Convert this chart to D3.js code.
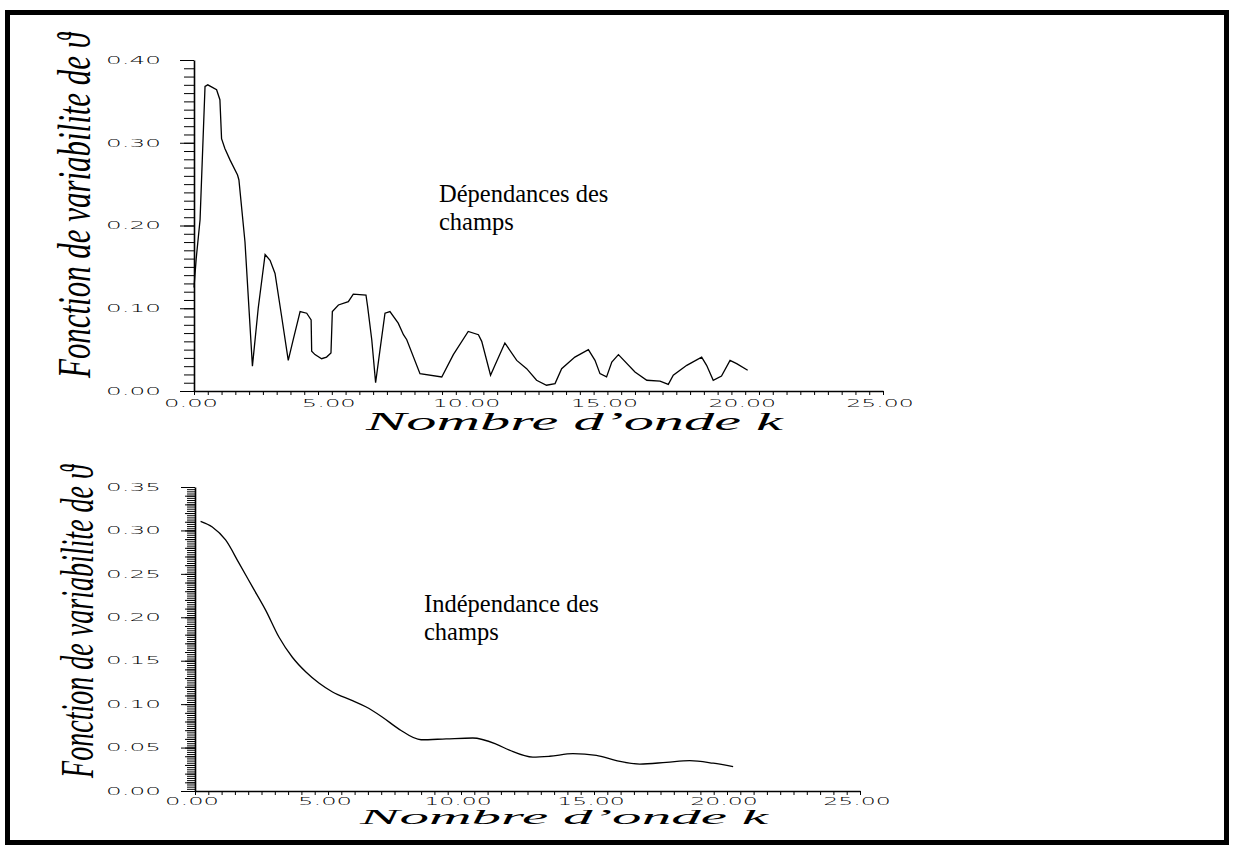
<!DOCTYPE html>
<html>
<head>
<meta charset="utf-8">
<script src="https://cdn.jsdelivr.net/npm/d3@7"></script>
<style>
  body { margin: 0; background: #fff; }
  svg { display: block; }
</style>
</head>
<body>
<script>
// top panel - "Dépendances des champs"
var kTop = [0.00, 0.08, 0.22, 0.40, 0.50, 0.82, 0.94, 1.00, 1.12, 1.31, 1.58, 1.63, 1.85, 2.12, 2.33,
  2.58, 2.76, 2.94, 3.18, 3.42, 3.60, 3.85, 4.09, 4.25, 4.27, 4.39, 4.63, 4.81, 4.97, 5.02, 5.24,
  5.60, 5.78, 6.24, 6.30, 6.45, 6.59, 6.75, 6.93, 7.11, 7.41, 7.60, 7.72, 8.20, 8.99, 9.41, 9.95,
  10.32, 10.44, 10.76, 10.92, 11.28, 11.71, 12.07, 12.43, 12.79, 13.10, 13.34, 13.82, 14.31, 14.55,
  14.73, 14.97, 15.16, 15.40, 16.00, 16.43, 16.91, 17.21, 17.39, 17.88, 18.42, 18.60, 18.84, 19.14,
  19.45, 19.69, 20.09];
var vTop = [0.125, 0.160, 0.207, 0.368, 0.370, 0.364, 0.352, 0.305, 0.293, 0.279, 0.261, 0.255, 0.180, 0.030, 0.100,
  0.165, 0.158, 0.142, 0.090, 0.037, 0.062, 0.096, 0.094, 0.086, 0.048, 0.044, 0.039, 0.041, 0.046, 0.096, 0.104,
  0.108, 0.117, 0.116, 0.102, 0.062, 0.010, 0.050, 0.094, 0.096, 0.082, 0.068, 0.062, 0.021, 0.017, 0.044, 0.072,
  0.068, 0.060, 0.019, 0.031, 0.058, 0.037, 0.027, 0.013, 0.007, 0.009, 0.027, 0.041, 0.050, 0.037,
  0.021, 0.017, 0.035, 0.044, 0.023, 0.013, 0.012, 0.008, 0.019, 0.031, 0.041, 0.031, 0.013, 0.018,
  0.037, 0.033, 0.025];

// bottom panel - "Indépendance des champs"
var kBot = [0.21, 0.65, 1.15, 1.66, 2.16, 2.66, 3.16, 3.66, 4.17, 4.67, 5.17, 5.92, 6.42, 7.05, 7.68,
  8.50, 9.44, 10.44, 11.32, 11.82, 12.70, 13.33, 14.21, 15.09, 15.84, 16.72, 17.72, 18.60, 19.48, 20.23];
var vBot = [0.3105, 0.304, 0.289, 0.262, 0.235, 0.208, 0.177, 0.154, 0.137, 0.124, 0.114, 0.104, 0.097, 0.085, 0.071,
  0.059, 0.060, 0.061, 0.054, 0.047, 0.039, 0.040, 0.043, 0.041, 0.035, 0.031, 0.033, 0.035, 0.032, 0.028];

var xTickLabels = ["0.00", "5.00", "10.00", "15.00", "20.00", "25.00"];
var yTopLabels = ["0.00", "0.10", "0.20", "0.30", "0.40"];
var yBotLabels = ["0.00", "0.05", "0.10", "0.15", "0.20", "0.25", "0.30", "0.35"];

var yTitle = "Fonction de variabilite de \u03D1";
var xTitle = "Nombre  d\u2019onde  k";
var noteTop = ["Dépendances des", "champs"];
var noteBot = ["Indépendance des", "champs"];

var W = 1235, H = 845;

var svg = d3.select("body").append("svg")
  .attr("width", W)
  .attr("height", H);

// outer frame of the scanned page
svg.append("rect")
  .attr("x", 7.5).attr("y", 12.5)
  .attr("width", 1219).attr("height", 830)
  .attr("fill", "none")
  .attr("stroke", "#000")
  .attr("stroke-width", 5);

var panels = [
  { k: kTop, v: vTop, yLabels: yTopLabels, yMax: 0.40, x0: 194, x1: 883, y0: 391, y1: 60,
    ticks: [[0.01, 10], [0.1, 14]], curve: d3.curveLinear, labelDy: 12,
    yTitleStart: 378, yTitleLen: 345, yTitleX: 90,
    xTitleX: 366, xTitleY: 430, xTitleLen: 417, xTitleSize: 25,
    note: noteTop, noteX: 439, noteY: 202 },
  { k: kBot, v: vBot, yLabels: yBotLabels, yMax: 0.35, x0: 195, x1: 860, y0: 791, y1: 487,
    ticks: [[0.0025, 8], [0.01, 10], [0.05, 14]], curve: d3.curveMonotoneX, labelDy: 10,
    yTitleStart: 778, yTitleLen: 313, yTitleX: 93,
    xTitleX: 360, xTitleY: 824, xTitleLen: 408, xTitleSize: 21,
    note: noteBot, noteX: 424, noteY: 612 }
];

panels.forEach(drawPanel);

function drawPanel(p) {
  var x = d3.scaleLinear().domain([0, 25]).range([p.x0, p.x1]);
  var y = d3.scaleLinear().domain([0, p.yMax]).range([p.y0, p.y1]);

  // x axis, small ticks every 0.5
  var gx = svg.append("g")
    .attr("transform", "translate(0," + p.y0 + ")")
    .call(d3.axisBottom(x)
      .tickValues(d3.range(0, 25.001, 0.5))
      .tickSize(4).tickSizeOuter(0).tickFormat(""));
  gx.select(".domain").attr("stroke-width", 1.6);
  gx.selectAll(".tick line").attr("stroke-width", 1);

  // y axis, dense ticks pointing left
  p.ticks.forEach(function (t, i) {
    var n = Math.round(p.yMax / t[0]);
    var gy = svg.append("g")
      .attr("transform", "translate(" + p.x0 + ",0)")
      .call(d3.axisLeft(y)
        .tickValues(d3.range(0, n + 1).map(function (j) { return j * t[0]; }))
        .tickSize(t[1]).tickSizeOuter(0).tickFormat(""));
    gy.select(".domain").attr("stroke-width", i == 0 ? 1.6 : 0);
    gy.selectAll(".tick line").attr("stroke-width", 1);
  });

  // tick labels (wide, thin plotter lettering)
  svg.append("g").selectAll("text")
    .data(xTickLabels)
    .join("text")
    .attr("x", function (d) { return x(+d) - 3 - d.length * 13.5 / 2; })
    .attr("y", p.y0 + p.labelDy)
    .attr("dy", "0.36em")
    .attr("textLength", function (d) { return d.length * 13.5; })
    .attr("lengthAdjust", "spacingAndGlyphs")
    .style("font-family", "DejaVu Sans")
    .style("font-weight", 200)
    .style("font-size", "10.5px")
    .text(function (d) { return d; });

  svg.append("g").selectAll("text")
    .data(p.yLabels)
    .join("text")
    .attr("x", 161 - 55)
    .attr("y", function (d) { return y(+d); })
    .attr("dy", "0.36em")
    .attr("textLength", 55)
    .attr("lengthAdjust", "spacingAndGlyphs")
    .style("font-family", "DejaVu Sans")
    .style("font-weight", 200)
    .style("font-size", "10.5px")
    .text(function (d) { return d; });

  // the curve
  var line = d3.line()
    .x(function (d, i) { return x(p.k[i]); })
    .y(function (d) { return y(d); })
    .curve(p.curve);

  svg.append("path")
    .datum(p.v)
    .attr("d", line)
    .attr("fill", "none")
    .attr("stroke", "#000")
    .attr("stroke-width", 1.3);

  // axis titles, squeezed / stretched to the scan's lengths
  var yt = svg.append("text")
    .style("font-family", "Liberation Serif")
    .style("font-style", "italic")
    .style("font-size", "47px")
    .text(yTitle);
  var sy = p.yTitleLen / yt.node().getComputedTextLength();
  yt.attr("transform", "translate(" + p.yTitleX + "," + p.yTitleStart + ") rotate(-90) scale(" + sy + ",1)");

  var xt = svg.append("text")
    .style("font-family", "Liberation Serif")
    .style("font-style", "italic")
    .style("font-size", p.xTitleSize + "px")
    .text(xTitle);
  var sx = p.xTitleLen / xt.node().getComputedTextLength();
  xt.attr("transform", "translate(" + p.xTitleX + "," + p.xTitleY + ") scale(" + sx + ",1)");

  // annotation
  svg.append("g").selectAll("text")
    .data(p.note)
    .join("text")
    .attr("x", p.noteX)
    .attr("y", function (d, i) { return p.noteY + i * 28; })
    .style("font-family", "Liberation Serif")
    .style("font-size", "24.5px")
    .text(function (d) { return d; });
}
</script>
</body>
</html>
